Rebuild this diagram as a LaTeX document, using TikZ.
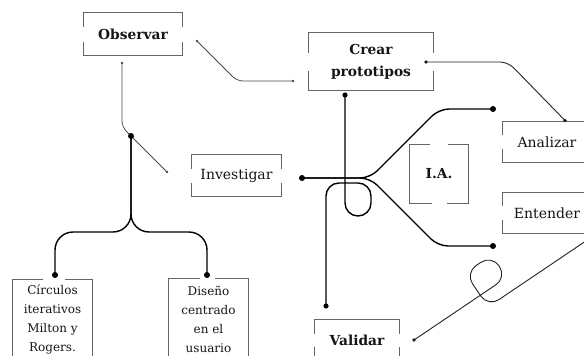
\documentclass[tikz,border=0pt]{standalone}
\usepackage{fontspec}
\setmainfont{DejaVu Serif}
\usetikzlibrary{calc}
\definecolor{ink}{HTML}{151515}
\definecolor{framec}{HTML}{666666}
\definecolor{thinc}{HTML}{4A4A4A}
\definecolor{midc}{HTML}{222222}
\newcommand\sidegapbox[2]{%
  \draw[frame] ([yshift=#2]#1.west) -- (#1.north west) -- (#1.north east) -- ([yshift=#2]#1.east);
  \draw[frame] ([yshift=-#2]#1.west) -- (#1.south west) -- (#1.south east) -- ([yshift=-#2]#1.east);}
\begin{document}
\begin{tikzpicture}[x=1pt,y=-1pt,
  lbl/.style={inner sep=0pt, align=center, text=ink, font=\fontsize{14}{20}\selectfont},
  blbl/.style={inner sep=0pt, align=center, text=ink, font=\fontsize{13.8}{22}\selectfont\bfseries},
  slbl/.style={inner sep=0pt, align=center, text=ink, font=\fontsize{12}{19}\selectfont},
  frame/.style={draw=framec, line width=0.9pt},
  heavy/.style={draw=black, line width=1.4pt, rounded corners=#1},
  heavy/.default=10pt,
  thinl/.style={draw=thinc, line width=0.75pt, rounded corners=6pt},
  midl/.style={draw=midc, line width=0.9pt, rounded corners=#1},
  midl/.default=8pt,
]
\useasboundingbox (0,0) rectangle (584,356);
\clip (0,0) rectangle (584,356);

% boxes
\node[blbl, minimum width=98pt, minimum height=43pt] (obs) at (133,34.2) {Observar};
\node[blbl, minimum width=124pt, minimum height=57pt] (cre) at (371,61.5) {Crear\\prototipos};
\node[lbl, minimum width=89pt, minimum height=41pt] (inv) at (236.5,175.5) {Investigar};
\node[blbl, minimum width=58pt, minimum height=58pt] (ia) at (439,174) {I.A.};
\node[lbl, minimum width=88pt, minimum height=40pt] (ana) at (547,142) {Analizar};
\node[lbl, minimum width=88pt, minimum height=40pt] (ent) at (547,213) {Entender};
\node[blbl, minimum width=84pt, minimum height=40pt] (val) at (357,340) {Validar};
\node[slbl, minimum width=79pt, minimum height=80pt] (cir) at (52.5,320) {Círculos\\iterativos\\Milton y\\Rogers.};
\node[slbl, minimum width=80pt, minimum height=80pt] (dis) at (208.5,319) {Diseño\\centrado\\en el\\usuario};

\sidegapbox{obs}{7.5pt}
\sidegapbox{cre}{9pt}
\sidegapbox{inv}{7pt}
\sidegapbox{ana}{7pt}
\sidegapbox{ent}{7pt}
\sidegapbox{val}{6.5pt}
\draw[frame] ([xshift=-9pt]ia.north) -- (ia.north west) -- (ia.south west) -- ([xshift=-7pt]ia.south);
\draw[frame] ([xshift=9pt]ia.north) -- (ia.north east) -- (ia.south east) -- ([xshift=8pt]ia.south);
\draw[frame] ([xshift=-9.5pt]cir.north) -- (cir.north west) -- (cir.south west);
\draw[frame] ([xshift=12.5pt]cir.north) -- (cir.north east) -- (cir.south east);
\draw[frame] ([xshift=-8.5pt]dis.north) -- (dis.north west) -- (dis.south west);
\draw[frame] ([xshift=6.5pt]dis.north) -- (dis.north east) -- (dis.south east);

% connector end points
\coordinate (oR) at (197,41);
\coordinate (cL) at (293,81);
\coordinate (oB) at (122,63);
\coordinate (iL) at (167,172);
\coordinate (hub) at (131,136);
\coordinate (cirT) at (55,275);
\coordinate (disT) at (207,275);
\coordinate (iR) at (302,178);
\coordinate (up) at (493,109);
\coordinate (dn) at (493,246);
\coordinate (cB) at (345,95);
\coordinate (vT) at (326,306);
\coordinate (cR) at (426,62);
\coordinate (aT) at (565,120.5);
\coordinate (vR) at (414,340);

% thin grey connectors
\draw[thinl] (oR) -- ++(40,40) -- (cL);
\draw[thinl] (oB) -- ++(0,64) -- (iL);

% tree
\draw[heavy=18pt] (hub) -- ++(0,96) -| (cirT);
\draw[heavy=18pt] (hub) -- ++(0,96) -| (disT);

% investigar fork
\draw[heavy] (iR) -- ++(68,0) -- ++(69,-69) -- (up);
\draw[heavy] (iR) -- ++(68,0) -- ++(68,68) -- (dn);

% crear loop to validar
\draw[heavy=13pt] (cB) -- ++(0,121) -- ++(26,0) -- ++(0,-33) -- ++(-45,0) -- (vT);

% crear to analizar
\draw[midl] (cR) -- ++(82,0) -- (aT);

% validar loop
\draw[midl=13pt] (vR) -- ++(92.8,-62.6) -- ++(-15.1,-22.4) -- ++(-26.5,17.9) -- ++(22.9,34.0) -- ++(124.4,-83.9);

% dots
\foreach \p in {hub,iR,up,dn,cirT,disT}{\fill[black] (\p) circle (3pt);}
\foreach \p in {cB,vT}{\fill[black] (\p) circle (2.6pt);}
\foreach \p in {cR,aT,vR}{\fill[midc] (\p) circle (1.9pt);}
\foreach \p in {oR,cL,oB,iL}{\fill[thinc] (\p) circle (1.3pt);}
\end{tikzpicture}
\end{document}
